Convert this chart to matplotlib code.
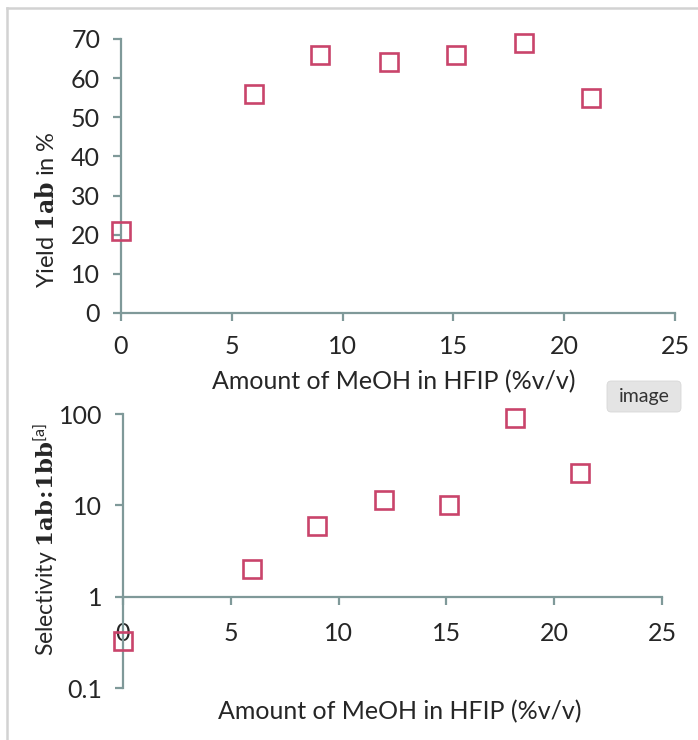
import matplotlib
matplotlib.use("Agg")
import matplotlib.pyplot as plt
from matplotlib.patches import FancyBboxPatch
from matplotlib.lines import Line2D

plt.rcParams['font.family'] = ['Lato', 'DejaVu Sans']
plt.rcParams['mathtext.fontset'] = 'custom'
plt.rcParams['mathtext.rm'] = 'Lato'
plt.rcParams['mathtext.it'] = 'Lato'
plt.rcParams['mathtext.bf'] = 'DejaVu Serif:bold'

# Data
meoh_yield = [0, 6.0, 9.0, 12.1, 15.1, 18.2, 21.2]
yield_1ab = [21, 56, 66, 64, 66, 69, 55]
meoh_sel = [0, 6.0, 9.0, 12.1, 15.1, 18.2, 21.2]
selectivity = [0.33, 2.0, 6.0, 11.3, 10.0, 90, 22.5]
x_ticks = [0, 5, 10, 15, 20, 25]
y_ticks_top = [0, 10, 20, 30, 40, 50, 60, 70]
y_ticks_bot = [0.1, 1, 10, 100]
y_ticklabels_bot = ['0.1', '1', '10', '100']

W, H = 698, 740
fig = plt.figure(figsize=(W / 100, H / 100), dpi=100)
fig.patch.set_facecolor('white')

spine_c = '#7f9999'
mark_c = '#c9446b'
text_c = '#262626'
fs = 18

def px_axes(l, r, t, b):
    return fig.add_axes([l / W, 1 - b / H, (r - l) / W, (b - t) / H])

# frame
fig.add_artist(Line2D([7 / W, 7 / W], [0, 1 - 8 / H], color='#d2d2d2', lw=1.8))
fig.add_artist(Line2D([7 / W, 1], [1 - 8 / H, 1 - 8 / H], color='#d2d2d2', lw=1.8))

# top axes
ax1 = px_axes(121, 675, 39, 313)
ax1.plot(meoh_yield, yield_1ab, linestyle='none', marker='s', markersize=12.5,
         markerfacecolor='none', markeredgecolor=mark_c, markeredgewidth=1.9, clip_on=False, zorder=5)
ax1.set_xlim(0, 25)
ax1.set_ylim(0, 70)
ax1.set_xticks(x_ticks)
ax1.set_yticks(y_ticks_top)

# bottom axes
ax2 = px_axes(123, 662, 414, 688)
ax2.set_yscale('log')
ax2.plot(meoh_sel, selectivity, linestyle='none', marker='s', markersize=12.5,
         markerfacecolor='none', markeredgecolor=mark_c, markeredgewidth=1.9, clip_on=False, zorder=5)
ax2.set_xlim(0, 25)
ax2.set_ylim(0.1, 100)
ax2.set_xticks(x_ticks)
ax2.set_yticks(y_ticks_bot)
ax2.set_yticklabels(y_ticklabels_bot)
ax2.yaxis.set_minor_locator(matplotlib.ticker.NullLocator())
ax2.spines['bottom'].set_position(('data', 1))

for ax, xpad in ((ax1, 10), (ax2, 12)):
    for s in ('top', 'right'):
        ax.spines[s].set_visible(False)
    for s in ('left', 'bottom'):
        ax.spines[s].set_color(spine_c)
        ax.spines[s].set_linewidth(1.6)
    ax.tick_params(axis='x', direction='out', length=6, width=1.6, color=spine_c,
                   labelsize=fs, labelcolor=text_c, pad=xpad)
    ax.tick_params(axis='y', direction='out', length=6, width=1.6, color=spine_c,
                   labelsize=fs, labelcolor=text_c, pad=9)
    ax.set_facecolor('none')

fig.text(394 / W, 1 - 382 / H, 'Amount of MeOH in HFIP (%v/v)', ha='center', va='center',
         fontsize=fs, color=text_c)
fig.text(400 / W, 1 - 712 / H, 'Amount of MeOH in HFIP (%v/v)', ha='center', va='center',
         fontsize=fs, color=text_c)
fig.text(47 / W, 1 - 210 / H, r'Yield $\mathbf{1ab}$ in %', rotation=90, ha='center', va='center',
         fontsize=17, color=text_c)
fig.text(45 / W, 1 - 540 / H, r'Selectivity $\mathbf{1ab\!:\!1bb}^{\mathrm{[a]}}$', rotation=90,
         ha='center', va='center', fontsize=16.5, color=text_c)

# "image" badge
badge = FancyBboxPatch((607 / W, 1 - 412 / H), 74 / W, 31 / H,
                       boxstyle='round,pad=0,rounding_size=0.006', transform=fig.transFigure,
                       facecolor='#e4e4e4', edgecolor='#d8d8d8', lw=0.6)
fig.add_artist(badge)
fig.text(644 / W, 1 - 397 / H, 'image', ha='center', va='center', fontsize=14, color='#333333')

fig.savefig('out.png', dpi=100)
